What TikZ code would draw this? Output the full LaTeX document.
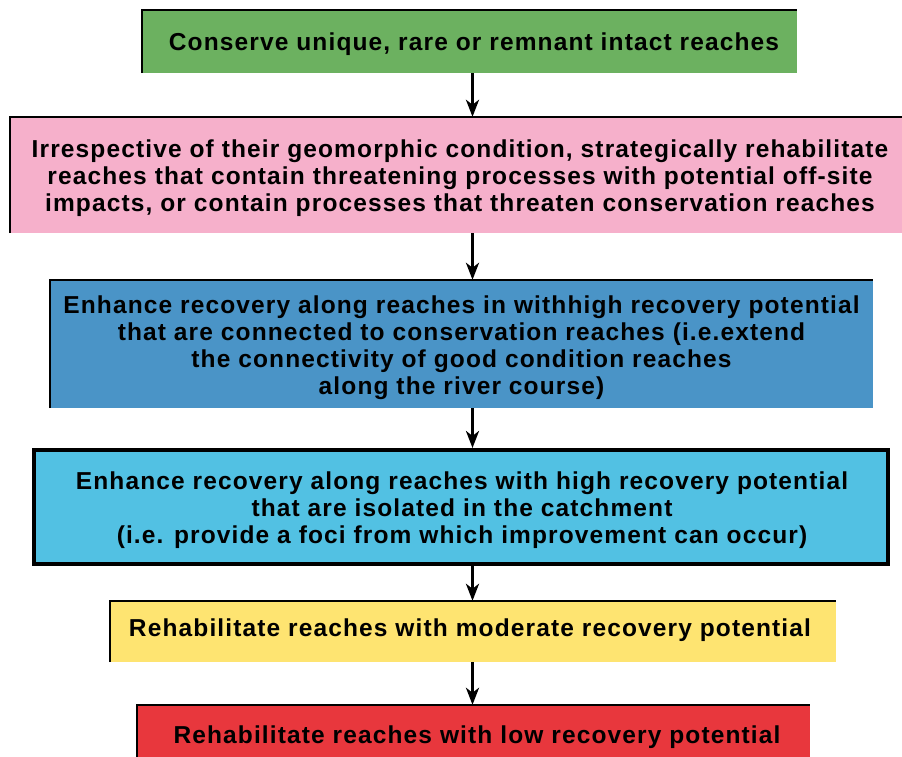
\documentclass[tikz,border=0pt]{standalone}
\usepackage{fontspec}
\setmainfont{Liberation Sans}[LetterSpace=4.6]
\usetikzlibrary{arrows.meta}
\definecolor{cgreen}{HTML}{6CB160}
\definecolor{cpink}{HTML}{F6B0CB}
\definecolor{cblue}{HTML}{4A94C7}
\definecolor{ccyan}{HTML}{52C1E3}
\definecolor{cyellow}{HTML}{FEE471}
\definecolor{cred}{HTML}{E8373D}
\begin{document}
\begin{tikzpicture}[x=1pt,y=-1pt,
  box/.style={rectangle,inner sep=0pt},
  txt/.style={inner sep=0pt,align=center,font=\fontsize{24.5}{27}\selectfont\bfseries},
  edge/.style={line width=2.5pt,black},
  conn/.style={line width=3.5pt,-{Stealth[length=17pt,width=13pt,inset=5pt]}}]
\useasboundingbox (0,0) rectangle (902,757);
\clip (0,0) rectangle (902,757);
\fill[white] (0,0) rectangle (902,757);
\node[box,fill=cgreen,minimum width=655,minimum height=63] (g) at (469.5,41.5) {};
\node[box,fill=cpink,minimum width=900,minimum height=116] (p) at (460,175) {};
\node[box,fill=cblue,minimum width=823,minimum height=128] (b) at (461.5,344) {};
\node[box,fill=ccyan,draw=black,line width=4pt,minimum width=854,minimum height=114] (c) at (461,507) {};
\node[box,fill=cyellow,minimum width=726,minimum height=61] (y) at (473,631.5) {};
\node[box,fill=cred,minimum width=673,minimum height=60] (r) at (473.5,735) {};
\foreach \n in {g,p,b,y,r}{\draw[edge] (\n.south west) -- (\n.north west) -- (\n.north east);}
\node[txt] (gt) at (474,44) {Conserve unique, rare or remnant intact reaches};
\node[txt] (pt) at (460,178) {Irrespective of their geomorphic condition, strategically rehabilitate\\reaches that contain threatening processes with potential off-site\\impacts, or contain processes that threaten conservation reaches};
\node[txt] (bt) at (461.5,348) {Enhance recovery along reaches in withhigh recovery potential\\that are connected to conservation reaches (i.e.extend\\the connectivity of good condition reaches\\along the river course)};
\node[txt] (ct) at (462,510) {Enhance recovery along reaches with high recovery potential\\that are isolated in the catchment\\(i.e. provide a foci from which improvement can occur)};
\node[txt] (yt) at (470,630) {Rehabilitate reaches with moderate recovery potential};
\node[txt] (rt) at (477,737) {Rehabilitate reaches with low recovery potential};
\coordinate (a1) at (472.5,73);
\draw[conn] (g.south -| a1) -- (p.north -| a1);
\draw[conn] (p.south -| a1) -- (b.north -| a1);
\draw[conn] (b.south -| a1) -- (c.north -| a1);
\draw[conn] (c.south -| a1) -- (y.north -| a1);
\draw[conn] (y.south -| a1) -- (r.north -| a1);
\end{tikzpicture}
\end{document}
